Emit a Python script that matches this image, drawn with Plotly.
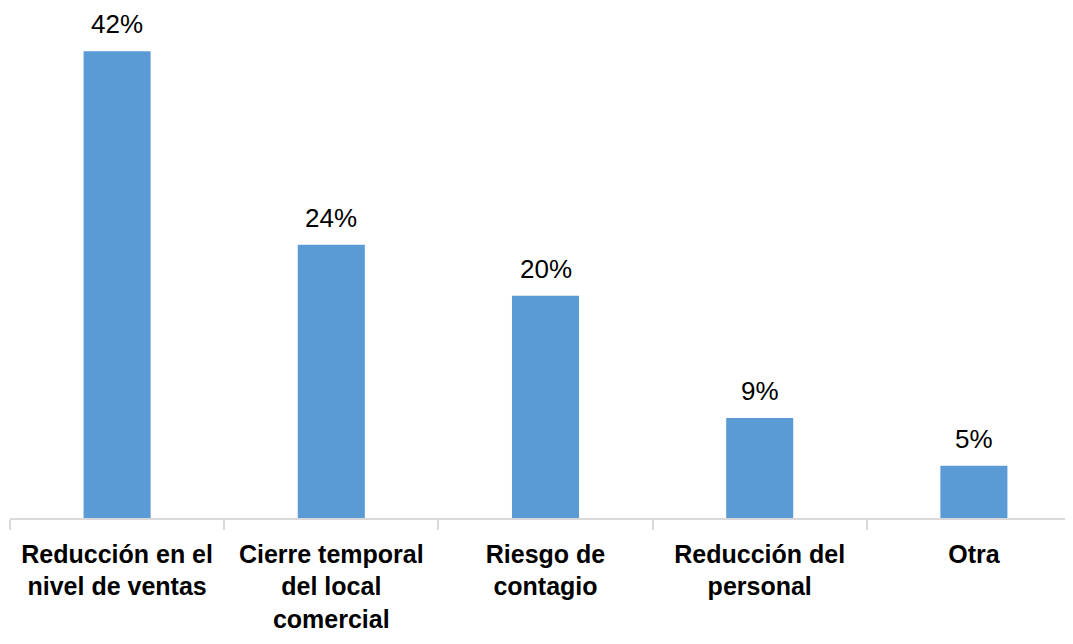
import plotly.graph_objects as go

categories = ["Reducción en el<br>nivel de ventas", "Cierre temporal<br>del local<br>comercial",
              "Riesgo de<br>contagio", "Reducción del<br>personal", "Otra"]
values = [42.0, 24.6, 20.0, 9.0, 4.7]
labels = ["42%", "24%", "20%", "9%", "5%"]

fig = go.Figure(go.Bar(
    x=categories, y=values,
    marker=dict(color="#5B9BD5", line=dict(width=0)),
    cliponaxis=False,
))

for c, v, t in zip(categories, values, labels):
    fig.add_annotation(
        x=c, y=v, text=t, showarrow=False, yanchor="bottom", yshift=11, borderpad=0,
        font=dict(family="Liberation Sans, Arial, sans-serif", size=26, color="#000000"),
    )

fig.update_layout(
    width=1073, height=644,
    margin=dict(l=2, r=0, t=10, b=134),
    paper_bgcolor="white", plot_bgcolor="white",
    bargap=0.687,
    showlegend=False,
    xaxis=dict(
        range=[-0.5, 4.5], tickson="boundaries", ticks="outside", ticklen=10,
        tickcolor="#d9d9d9", tickwidth=1.5,
        showline=True, linecolor="#d9d9d9", linewidth=1.5,
        tickfont=dict(family="Liberation Sans, Arial, sans-serif", size=25, color="#000000", weight="bold"),
        ticklabelstandoff=13,
        showgrid=False, fixedrange=True,
    ),
    yaxis=dict(range=[0, 45], visible=False, showgrid=False, zeroline=False),
)

fig.write_html("out.html")
